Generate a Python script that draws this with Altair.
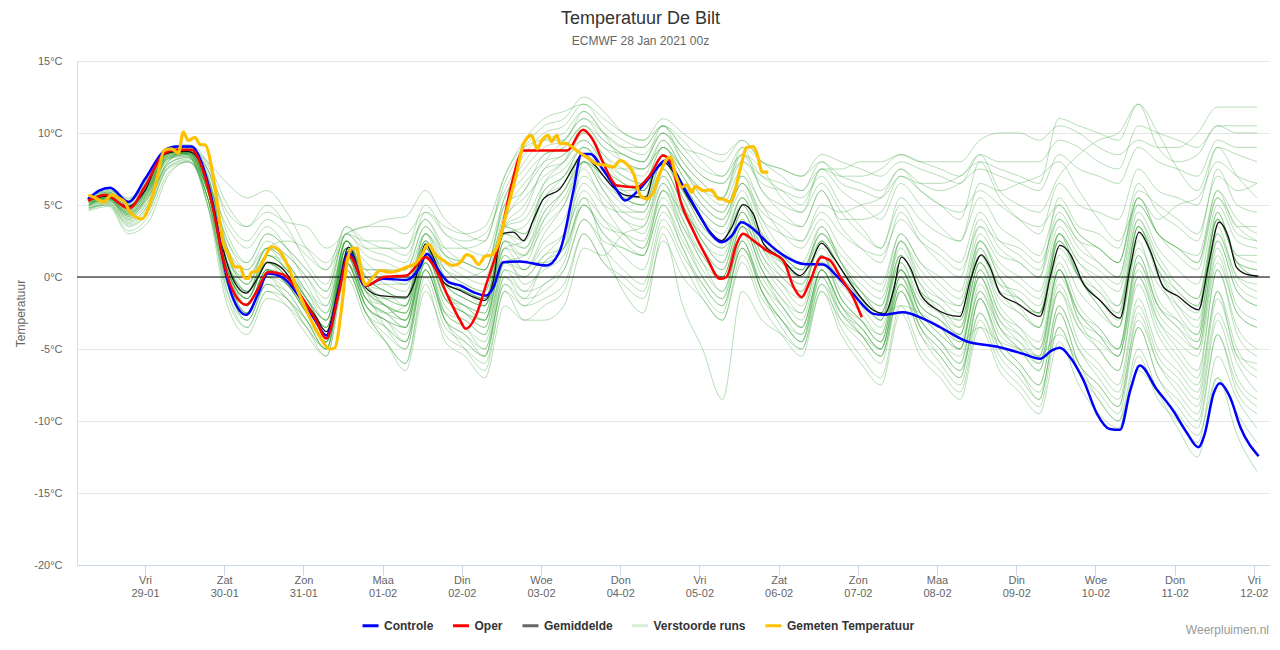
import json
import altair as alt
import pandas as pd

FONT = "Liberation Sans, Arial, Helvetica, sans-serif"

# ---- axis tick labels -------------------------------------------------------
TICKS = [1, 2, 3, 4, 5, 6, 7, 8, 9, 10, 11, 12, 13, 14, 15]
DAYS = ["Vri", "Zat", "Zon", "Maa", "Din", "Woe", "Don", "Vri", "Zat", "Zon",
        "Maa", "Din", "Woe", "Don", "Vri"]
DATES = ["29-01", "30-01", "31-01", "01-02", "02-02", "03-02", "04-02", "05-02",
         "06-02", "07-02", "08-02", "09-02", "10-02", "11-02", "12-02"]
Y_TICKS = [-20, -15, -10, -5, 0, 5, 10, 15]

SERIES = ["Controle", "Oper", "Gemiddelde", "Verstoorde runs", "Gemeten Temperatuur"]
LEGEND_COLORS = ["#0000ff", "#ff0000", "#666666", "#d8eed8", "#ffc000"]

# time in days since 28-01 00:00 ; (time, °C)
CONTROLE = [(0.28, 5.4), (0.42, 6.0), (0.56, 6.2), (0.79, 5.2), (1.0, 6.8), (1.25, 8.8),
            (1.4, 9.06), (1.59, 9.06), (1.72, 7.86), (1.88, 4.4), (1.97, 1.6), (2.09, -1.15),
            (2.28, -2.63), (2.43, -1.15), (2.55, 0.24), (2.73, -0.01), (2.98, -1.6), (3.15, -3.0),
            (3.29, -4.06), (3.44, -1.17), (3.57, 1.72), (3.78, -0.6), (4.01, -0.13), (4.3, -0.2),
            (4.47, 0.68), (4.56, 1.61), (4.68, 0.68), (4.83, -0.36), (4.98, -0.59), (5.15, -1.06),
            (5.31, -1.29), (5.4, -0.71), (5.52, 1.03), (5.73, 1.08), (6.07, 0.8), (6.24, 1.84),
            (6.41, 6.01), (6.51, 8.55), (6.62, 8.55), (6.79, 7.39), (6.96, 6.01), (7.06, 5.31),
            (7.21, 5.9), (7.4, 7.1), (7.57, 8.09), (7.67, 7.51), (7.8, 6.24), (7.97, 4.61),
            (8.13, 3.11), (8.28, 2.42), (8.41, 2.88), (8.53, 3.81), (8.68, 3.34), (8.85, 2.42),
            (9.1, 1.38), (9.31, 0.91), (9.56, 0.87), (9.73, 0.1), (9.94, -1.17), (10.2, -2.56),
            (10.32, -2.63), (10.57, -2.44), (10.83, -2.91), (11.04, -3.49), (11.37, -4.46),
            (11.75, -4.83), (12.09, -5.34), (12.3, -5.68), (12.45, -5.1), (12.55, -4.92),
            (12.68, -5.57), (12.85, -7.19), (13.02, -9.5), (13.18, -10.55), (13.31, -10.61),
            (13.44, -7.88), (13.56, -6.15), (13.77, -7.77), (13.98, -9.27), (14.15, -10.78),
            (14.3, -11.82), (14.38, -10.89), (14.49, -8.12), (14.57, -7.37), (14.7, -8.35),
            (14.83, -10.43), (15.06, -12.44)]

OPER = [(0.28, 5.3), (0.5, 5.7), (0.8, 4.76), (1.0, 6.3), (1.25, 8.6), (1.4, 8.83), (1.59, 8.83),
        (1.72, 7.6), (1.88, 4.2), (1.97, 1.6), (2.09, -0.7), (2.28, -1.93), (2.43, -0.8),
        (2.55, 0.35), (2.73, 0.2), (2.98, -1.4), (3.15, -2.9), (3.29, -4.27), (3.44, -1.3),
        (3.57, 1.5), (3.8, -0.6), (4.01, -0.01), (4.3, 0.1), (4.54, 1.38), (4.68, 0.45),
        (4.81, -1.17), (4.98, -3.02), (5.05, -3.6), (5.17, -2.79), (5.31, -0.48), (5.48, 2.53),
        (5.61, 6.01), (5.78, 8.78), (6.33, 8.78), (6.53, 10.22), (6.66, 9.48), (6.79, 7.86),
        (6.96, 6.35), (7.21, 6.24), (7.38, 7.1), (7.54, 8.44), (7.65, 7.86), (7.76, 5.31),
        (7.92, 3.23), (8.09, 1.38), (8.26, -0.13), (8.34, -0.01), (8.47, 2.3), (8.55, 3.0),
        (8.68, 2.53), (8.85, 1.84), (9.06, 1.14), (9.19, -0.71), (9.29, -1.4), (9.4, -0.25),
        (9.54, 1.38), (9.65, 1.14), (9.78, -0.01), (9.94, -1.4), (10.05, -2.79)]

GEMIDDELDE = [(0.28, 5.3), (0.5, 5.6), (0.79, 4.9), (1.0, 6.0), (1.21, 8.4), (1.4, 8.7),
              (1.55, 8.7), (1.67, 8.2), (1.8, 6.2), (1.93, 3.2), (2.05, 0.7), (2.28, -1.12),
              (2.43, 0.0), (2.55, 1.03), (2.73, 0.6), (2.98, -1.4), (3.15, -2.7), (3.29, -3.8),
              (3.44, -0.8), (3.57, 2.07), (3.78, -0.7), (3.97, -1.29), (4.3, -1.4), (4.41, -0.24),
              (4.54, 2.3), (4.64, 1.38), (4.77, -0.36), (4.98, -0.94), (5.15, -1.4), (5.29, -1.63),
              (5.4, -0.24), (5.5, 3.0), (5.65, 3.11), (5.78, 2.53), (5.9, 3.92), (6.03, 5.43),
              (6.24, 6.12), (6.41, 7.63), (6.51, 8.44), (6.66, 7.86), (6.91, 6.24), (7.08, 5.66),
              (7.33, 5.54), (7.42, 7.16), (7.57, 7.9), (7.71, 6.93), (7.88, 5.31), (8.09, 3.46),
              (8.28, 2.53), (8.41, 3.46), (8.55, 5.03), (8.68, 4.38), (8.81, 2.3), (9.02, 1.38),
              (9.27, 0.1), (9.4, 0.91), (9.54, 2.35), (9.69, 1.38), (9.94, -0.71), (10.2, -2.33),
              (10.34, -2.56), (10.45, -0.94), (10.55, 1.38), (10.66, 0.68), (10.79, -1.17),
              (10.95, -2.1), (11.29, -2.74), (11.42, -0.24), (11.56, 1.54), (11.67, 0.68),
              (11.8, -1.17), (12.01, -1.82), (12.3, -2.74), (12.43, -0.01), (12.55, 2.19),
              (12.68, 1.61), (12.85, -0.48), (13.06, -1.63), (13.31, -2.86), (13.44, 0.68),
              (13.55, 3.11), (13.69, 1.84), (13.86, -0.71), (14.03, -1.29), (14.3, -2.28),
              (14.43, 0.91), (14.56, 3.81), (14.68, 2.77), (14.78, 0.68), (14.9, 0.2), (15.06, 0.06)]

GEMETEN = [(0.284, 5.7), (0.37, 5.5), (0.474, 5.2), (0.579, 5.7), (0.663, 5.5), (0.747, 5.2),
           (0.81, 4.5), (0.958, 4.04), (1.126, 6.24), (1.244, 8.8), (1.337, 8.9), (1.421, 8.6),
           (1.484, 10.06), (1.547, 9.48), (1.631, 9.7), (1.694, 9.2), (1.758, 9.17), (1.884, 6.24),
           (1.989, 2.3), (2.052, 1.6), (2.136, 0.7), (2.2, 0.7), (2.263, -0.1), (2.305, -0.1),
           (2.347, 0.33), (2.41, 0.4), (2.473, 0.9), (2.6, 2.1), (2.683, 1.9), (2.81, 0.7),
           (2.894, -0.5), (3.02, -2.1), (3.188, -3.95), (3.336, -5.0), (3.399, -4.9), (3.483, -2.1),
           (3.546, 0.9), (3.61, 1.96), (3.672, 2.0), (3.715, 0.91), (3.78, -0.55), (3.88, -0.01),
           (3.97, 0.45), (4.09, 0.33), (4.2, 0.45), (4.3, 0.68), (4.41, 0.91), (4.49, 1.49),
           (4.58, 2.26), (4.66, 1.61), (4.77, 1.14), (4.89, 0.8), (4.98, 1.0), (5.06, 1.56),
           (5.13, 1.4), (5.21, 0.87), (5.29, 1.42), (5.38, 1.54), (5.46, 2.3), (5.57, 4.62),
           (5.69, 7.16), (5.78, 9.25), (5.88, 9.83), (5.95, 8.9), (6.01, 9.48), (6.09, 9.83),
           (6.13, 9.4), (6.2, 9.83), (6.24, 9.25), (6.3, 9.3), (6.37, 9.13), (6.45, 8.78),
           (6.58, 8.32), (6.7, 7.86), (6.83, 7.74), (6.91, 7.63), (7.0, 8.09), (7.08, 7.86),
           (7.17, 7.16), (7.25, 5.7), (7.33, 5.43), (7.42, 5.9), (7.48, 6.9), (7.63, 8.32),
           (7.71, 6.93), (7.78, 6.24), (7.84, 6.4), (7.9, 5.89), (7.95, 6.3), (8.05, 6.0),
           (8.15, 6.05), (8.24, 5.43), (8.3, 5.4), (8.39, 5.2), (8.45, 6.0), (8.51, 7.39),
           (8.6, 9.01), (8.68, 9.06), (8.74, 8.32), (8.79, 7.28), (8.87, 7.28)]

# ensemble members, 6-hourly (07, 13, 19, 01 h)
ENS_T = [0.29, 0.54, 0.79,
         1.04, 1.29, 1.54, 1.79, 2.04, 2.29, 2.54, 2.79, 3.04, 3.29, 3.54, 3.79,
         4.04, 4.29, 4.54, 4.79, 5.04, 5.29, 5.54, 5.79, 6.04, 6.29, 6.54, 6.79,
         7.04, 7.29, 7.54, 7.79, 8.04, 8.29, 8.54, 8.79, 9.04, 9.29, 9.54, 9.79,
         10.04, 10.29, 10.54, 10.79, 11.04, 11.29, 11.54, 11.79, 12.04, 12.29, 12.54, 12.79,
         13.04, 13.29, 13.54, 13.79, 14.04, 14.29, 14.54, 14.79, 15.04]

ENS = [
    [5.2, 5.8, 5.0, 6.5, 8.5, 9.0, 8.0, 6.5, 5.5, 6.0, 4.5, 2.0, 0.5, 2.5, 1.0, 0.0, -0.5, 2.0, 0.5,
     0.0, 0.5, 4.0, 6.0, 8.0, 9.5, 11.0, 10.0, 9.0, 8.5, 10.0, 8.5, 7.0, 6.5, 8.0, 7.0, 6.5, 6.0, 7.5, 7.0,
     7.0, 7.5, 8.5, 8.0, 8.0, 8.0, 9.5, 10.0, 10.0, 9.5, 10.5, 10.0, 9.0, 8.5, 9.5, 9.0, 9.0, 10.0, 11.8, 11.8, 11.8],
    [5.4, 5.6, 5.2, 7.0, 8.8, 8.9, 7.5, 4.5, 3.5, 4.5, 3.8, 3.5, 2.0, 3.0, 3.5, 3.5, 3.0, 4.5, 3.0,
     2.5, 3.0, 6.0, 8.5, 10.0, 10.5, 12.0, 11.0, 10.0, 9.5, 10.5, 9.0, 8.5, 8.0, 9.5, 8.0, 7.0, 6.0, 8.0, 6.5,
     6.0, 5.5, 7.0, 6.0, 5.0, 4.0, 8.0, 7.5, 7.0, 6.5, 11.0, 10.5, 10.0, 9.5, 12.0, 9.0, 8.0, 8.5, 10.5, 10.0, 10.0],
    [5.0, 5.5, 4.5, 5.8, 8.3, 8.6, 6.0, 1.0, 0.0, 2.0, 2.5, 2.0, 1.0, 3.0, 3.5, 4.0, 4.2, 6.0, 4.0,
     3.0, 2.5, 7.0, 9.0, 9.5, 9.5, 11.5, 10.0, 8.0, 7.5, 9.0, 7.5, 6.0, 5.0, 7.5, 5.0, 4.0, 3.5, 6.0, 4.0,
     4.0, 4.5, 7.0, 6.5, 6.5, 7.0, 8.0, 5.5, 4.0, 3.0, 6.5, 5.0, 4.5, 4.0, 7.5, 6.0, 5.5, 5.0, 9.0, 8.5, 8.0],
    [5.6, 6.0, 5.5, 6.5, 8.7, 8.5, 5.5, 0.5, -1.0, 1.0, 0.0, -1.5, -3.0, 2.0, 0.5, 0.5, 0.0, 3.0, 1.5,
     1.0, 0.5, 5.0, 6.0, 8.5, 9.0, 10.5, 9.0, 8.5, 8.0, 10.5, 8.0, 6.5, 5.5, 9.0, 6.0, 5.0, 4.5, 7.5, 7.5,
     8.0, 8.0, 8.5, 8.0, 7.5, 7.0, 8.5, 6.0, 5.0, 4.5, 7.0, 8.5, 9.5, 10.0, 12.0, 10.0, 7.5, 6.0, 9.0, 7.0, 5.5],
    [5.2, 5.3, 4.2, 5.5, 8.0, 8.8, 7.0, 2.5, 1.0, 3.0, 2.0, 0.5, -1.0, 3.0, 2.5, 2.5, 2.0, 4.0, 1.5,
     0.5, 0.0, 4.5, 6.5, 8.0, 8.5, 10.0, 8.5, 7.5, 7.0, 9.5, 7.5, 6.0, 5.5, 8.0, 6.5, 6.0, 5.5, 7.0, 5.0,
     3.5, 2.0, 5.5, 4.0, 3.0, 2.5, 6.5, 6.0, 6.5, 7.0, 8.0, 6.0, 4.0, 2.5, 5.0, 3.0, 2.0, 1.5, 6.0, 4.0, 3.0],
    [4.9, 5.6, 4.8, 6.0, 8.4, 8.7, 6.5, 2.0, 0.5, 2.0, 0.5, -1.0, -2.0, 2.5, 0.0, -1.0, -1.5, 2.5, 0.5,
     -0.5, -1.0, 3.5, 4.0, 6.5, 7.5, 9.0, 8.0, 7.5, 7.5, 9.0, 7.0, 5.0, 4.0, 6.5, 4.0, 3.0, 2.5, 5.0, 4.5,
     5.0, 5.5, 7.5, 6.0, 5.0, 4.5, 6.0, 5.0, 4.0, 3.5, 5.0, 3.0, 2.0, 1.0, 6.0, 5.0, 4.0, 3.0, 7.0, 6.0, 6.5],
    [5.3, 5.5, 4.5, 6.2, 8.6, 8.6, 6.0, 0.5, -1.5, 1.0, 0.5, -2.0, -4.0, 2.0, -1.0, -1.5, -1.5, 2.5, 0.0,
     -1.0, -1.5, 3.0, 2.0, 5.0, 6.5, 8.5, 7.0, 5.5, 5.0, 8.0, 6.0, 4.0, 2.5, 5.5, 2.5, 1.5, 0.5, 3.0, 1.0,
     -1.0, -2.0, 2.0, -0.5, -1.5, -2.0, 2.5, 0.5, -0.5, -1.5, 3.0, 1.0, -0.5, -2.0, 4.0, 1.0, -0.5, -1.5, 4.5, 1.0, 0.5],
    [5.5, 5.8, 4.6, 6.5, 8.8, 8.5, 5.0, -0.5, -2.5, 0.5, -0.5, -2.5, -4.5, 1.5, -1.5, -2.5, -2.0, 2.0, -1.0,
     -2.0, -2.5, 2.5, 1.0, 4.0, 6.0, 8.0, 7.0, 6.0, 6.0, 8.5, 6.5, 4.5, 3.5, 6.0, 3.0, 1.5, 0.5, 2.5, 0.5,
     -1.0, -2.5, 1.0, -1.5, -2.5, -3.0, 1.5, -1.0, -2.0, -2.5, 2.0, 0.0, -1.0, -2.5, 3.5, 0.5, -1.0, -2.0, 4.0, 1.5, 1.0],
    [5.0, 5.2, 3.8, 5.0, 7.8, 8.3, 6.5, 1.5, -0.5, 1.5, 0.5, -1.5, -3.5, 1.5, -0.5, -1.0, -2.0, 3.0, -0.5,
     -1.5, -2.0, 3.5, 3.0, 6.0, 7.0, 9.0, 7.5, 5.5, 5.0, 8.0, 5.5, 2.5, 1.5, 4.5, 2.0, 0.5, -0.5, 2.0, 0.0,
     -1.5, -3.0, 1.5, -1.0, -2.0, -3.5, 1.0, -1.5, -2.5, -3.5, 1.5, -1.0, -2.5, -3.5, 2.0, -0.5, -2.0, -3.0, 3.0, 0.0, -1.0],
    [5.6, 5.9, 5.2, 6.8, 8.9, 8.8, 7.0, 1.5, -1.0, 1.5, 1.0, -1.5, -3.5, 2.5, -0.5, -2.0, -2.5, 2.0, -1.5,
     -2.5, -3.0, 2.5, 1.5, 4.5, 6.0, 8.5, 6.5, 5.0, 4.5, 7.5, 5.0, 2.0, 0.5, 4.0, 1.0, -0.5, -1.5, 1.5, -0.5,
     -2.0, -3.5, 0.5, -2.0, -3.0, -4.0, 1.0, -1.0, -1.5, -2.5, 2.5, 0.5, -1.0, -2.0, 3.0, 0.5, -1.5, -2.5, 4.0, 1.0, 0.0],
    [4.8, 5.0, 3.5, 4.5, 7.5, 8.0, 5.5, 0.0, -2.0, 0.5, 0.0, -2.0, -4.0, 1.0, -1.0, -2.0, -3.0, 1.5, -0.5,
     -1.0, -1.5, 3.5, 4.5, 7.5, 8.0, 10.0, 8.5, 7.0, 6.5, 9.0, 7.0, 5.0, 4.0, 6.5, 4.5, 3.5, 2.5, 4.5, 3.0,
     2.0, 1.5, 4.0, 2.5, 1.5, 0.5, 3.5, 2.5, 2.0, 1.0, 4.0, 2.5, 1.0, 0.0, 5.0, 3.0, 2.0, 1.0, 5.5, 3.5, 2.5],
    [5.3, 5.7, 5.0, 6.3, 8.5, 8.8, 6.5, 0.5, -2.0, 0.5, 0.0, -2.5, -4.5, 2.0, -2.0, -3.0, -3.5, 1.5, -1.5,
     -2.5, -3.5, 1.0, 0.0, 1.5, 3.0, 6.5, 5.0, 4.5, 4.5, 7.5, 5.0, 2.5, 1.0, 4.5, 1.5, 0.0, -1.0, 2.5, 0.5,
     -1.0, -2.0, 2.5, 0.0, -1.5, -2.5, 2.0, -0.5, -1.5, -2.5, 2.5, 0.0, -1.5, -3.0, 3.5, 0.5, -2.0, -3.5, 3.5, 0.0, -0.5],
    [5.1, 5.4, 4.0, 5.8, 8.2, 8.4, 5.0, -1.0, -3.0, -0.5, -1.0, -3.0, -5.0, 1.0, -2.0, -3.0, -3.5, 1.5, -1.5,
     -2.5, -3.0, 1.5, 0.5, 3.0, 5.0, 8.0, 6.0, 4.0, 3.5, 7.0, 4.0, 1.0, 0.0, 3.5, 0.5, -1.5, -2.5, 1.5, -1.5,
     -3.0, -4.5, 0.5, -2.5, -4.0, -5.0, 0.5, -2.5, -3.5, -4.5, 1.0, -2.0, -3.5, -5.0, 1.0, -2.5, -4.0, -5.0, 2.0, -2.0, -3.0],
    [5.4, 5.5, 4.3, 6.0, 8.6, 8.9, 6.8, 2.5, 0.5, 2.5, 1.5, 0.0, -2.0, 2.5, 0.0, -1.0, -1.5, 2.0, -0.5,
     -1.5, -2.0, 2.0, 2.5, 6.5, 8.0, 10.5, 9.0, 8.0, 7.5, 9.5, 7.5, 5.5, 4.5, 7.0, 4.0, 2.0, 1.0, 3.5, 1.0,
     -1.0, -2.5, 1.5, -1.0, -2.5, -3.5, 2.0, -1.0, -2.5, -3.5, 3.0, 0.0, -2.0, -3.5, 2.5, -1.5, -3.0, -4.5, 2.5, -1.0, -2.0],
    [4.7, 5.0, 3.2, 4.2, 7.2, 8.0, 6.0, 1.0, -1.5, 1.0, -0.5, -2.0, -3.5, 1.0, -1.5, -2.5, -3.5, 1.0, -2.5,
     -3.5, -4.5, 0.5, -1.0, -0.5, 1.0, 5.0, 3.0, 2.0, 1.5, 6.0, 4.5, 3.0, 2.0, 5.0, 2.0, 0.0, -1.0, 2.5, 0.0,
     -1.5, -3.0, 1.0, -2.0, -3.0, -4.5, 0.0, -3.0, -4.0, -5.0, 0.5, -2.5, -3.5, -5.0, 1.5, -2.0, -3.5, -4.5, 3.0, -0.5, -1.5],
    [5.2, 5.6, 4.8, 6.4, 8.7, 8.7, 6.0, 0.0, -2.5, 0.0, -0.5, -2.5, -4.5, 1.5, -1.5, -2.5, -3.0, 1.5, -1.0,
     -2.0, -3.0, 1.5, -0.5, 0.5, 1.5, 5.5, 4.0, 3.0, 2.0, 6.0, 3.0, 0.5, -1.0, 2.5, -0.5, -2.0, -3.5, 0.5, -2.0,
     -3.5, -5.0, -0.5, -3.0, -4.5, -6.0, -1.0, -3.5, -5.0, -6.5, -0.5, -3.5, -5.0, -6.5, 0.0, -3.5, -5.5, -7.0, 0.5, -3.5, -5.0],
    [5.5, 6.1, 5.1, 6.7, 8.9, 9.0, 7.2, 1.0, -2.0, 0.5, -0.5, -2.5, -4.0, 2.0, -0.5, -0.5, -0.5, 1.5, -0.5,
     -1.0, -1.5, 1.0, 1.0, 1.0, 2.0, 8.0, 7.0, 5.5, 5.5, 8.0, 5.5, 3.0, 2.0, 3.5, 2.0, 1.0, 0.5, 1.0, 0.0,
     -1.5, -2.5, -2.0, -2.5, -3.5, -4.5, -3.5, -4.5, -5.0, -5.5, -4.0, -6.0, -8.5, -10.0, -6.5, -8.0, -9.5, -11.0, -7.0, -9.5, -11.5],
    [4.9, 5.3, 4.4, 5.6, 8.1, 8.5, 5.5, -1.5, -3.5, -1.0, -1.5, -3.5, -5.5, 0.5, -2.5, -4.0, -5.0, 0.5, -3.0,
     -4.5, -5.5, 0.0, -1.5, -1.0, 0.5, 4.0, 2.0, 0.5, -0.5, 4.0, 1.5, -0.5, -2.0, 2.0, -0.5, -2.5, -4.0, 0.0, -3.0,
     -4.5, -6.0, -1.0, -4.0, -5.5, -7.0, -1.5, -4.5, -6.0, -7.5, -2.0, -5.0, -7.0, -8.5, -3.0, -6.0, -7.5, -9.0, -2.5, -6.0, -8.0],
    [5.0, 5.5, 4.0, 5.2, 7.8, 8.4, 5.0, -2.0, -4.0, -1.5, -2.0, -3.5, -5.0, 1.0, -2.0, -3.5, -4.5, 1.0, -3.0,
     -5.0, -6.5, -1.0, -3.0, -3.0, -2.0, 2.0, 1.5, 3.0, 3.5, 6.5, 3.5, 1.0, -1.0, 2.5, -1.0, -3.5, -5.0, -0.5, -3.5,
     -5.5, -7.0, -2.0, -5.0, -6.5, -8.0, -3.0, -6.0, -7.5, -9.0, -3.5, -6.5, -8.0, -9.5, -3.5, -7.0, -9.0, -10.5, -4.0, -8.0, -9.5],
    [5.4, 5.8, 4.7, 6.1, 8.5, 8.8, 6.8, 0.5, -1.5, 1.5, 0.5, -1.5, -3.0, 2.0, -0.5, -1.5, -2.0, 2.0, -1.0,
     -2.0, -3.0, 2.0, 1.5, 3.5, 5.0, 7.5, 5.0, 3.0, 2.0, 5.5, 3.0, 0.0, -1.5, 2.0, -1.0, -3.0, -4.5, -0.5, -2.5,
     -4.0, -5.5, -1.0, -3.5, -5.0, -6.5, -2.5, -5.0, -6.5, -8.0, -3.5, -6.5, -8.5, -10.0, -5.0, -8.0, -10.5, -12.5, -7.0, -11.0, -13.5],
    [5.1, 5.5, 4.4, 5.9, 8.4, 8.6, 6.2, 1.0, -1.0, 1.0, 0.0, -2.0, -4.0, 1.5, -1.0, -2.0, -3.0, 2.0, -1.0,
     -2.5, -3.5, 2.0, 0.5, 2.0, 3.0, 5.5, 2.0, -1.0, -2.5, 3.0, -2.0, -5.0, -8.5, -1.0, -3.0, -4.0, -5.0, -1.0, -3.0,
     -4.0, -5.0, -0.5, -3.0, -4.5, -5.5, -1.0, -4.0, -5.0, -6.0, -1.0, -3.5, -4.5, -5.5, 0.0, -3.0, -4.5, -5.5, 1.0, -2.5, -3.5],
    [4.6, 4.9, 3.0, 3.8, 7.0, 8.0, 6.5, 3.5, 2.0, 3.5, 2.0, -0.5, -2.5, 2.5, -0.5, -2.0, -3.0, 1.0, -2.5,
     -3.5, -5.0, -0.5, -2.0, -1.5, -0.5, 3.0, 1.0, -0.5, -1.5, 2.5, 0.0, -1.5, -3.0, 1.5, -1.5, -3.0, -4.5, 0.5, -2.5,
     -4.0, -5.5, -0.5, -3.5, -5.5, -7.0, -1.5, -5.0, -6.5, -8.5, -2.5, -6.0, -7.5, -9.0, -3.5, -7.0, -8.5, -10.0, -4.0, -7.5, -9.0],
    [5.3, 5.6, 4.8, 6.2, 8.6, 8.5, 6.0, 0.5, -1.5, 1.0, 0.0, -2.0, -4.0, 2.5, -0.5, -1.5, -2.0, 2.5, 0.0,
     -1.0, -1.5, 3.0, 3.5, 6.0, 7.0, 8.5, 7.5, 6.5, 6.0, 8.5, 6.0, 4.0, 3.0, 5.5, 3.0, 1.5, 0.5, 3.0, 1.5,
     0.0, -1.0, 3.0, 1.0, 0.0, -1.0, 3.5, 1.5, 1.0, 0.0, 4.0, 2.0, 1.0, 0.0, 5.5, 3.0, 2.0, 1.0, 6.0, 3.5, 3.5],
    [5.5, 5.9, 5.3, 7.0, 9.0, 9.1, 7.5, 3.0, 1.0, 3.0, 2.0, 0.5, -1.0, 3.0, 1.5, 1.0, 0.5, 3.5, 2.0,
     2.0, 2.5, 6.5, 9.0, 10.5, 11.0, 12.5, 11.5, 10.0, 9.5, 11.0, 10.0, 9.0, 8.5, 9.5, 8.0, 7.5, 7.0, 8.5, 8.0,
     7.5, 7.0, 8.0, 7.5, 7.0, 6.5, 8.5, 8.0, 8.0, 8.0, 9.5, 9.0, 8.0, 7.5, 10.5, 10.0, 9.5, 9.0, 10.5, 10.5, 10.5],
    [5.2, 5.4, 4.2, 5.5, 8.2, 8.5, 5.5, -0.5, -3.0, -0.5, -1.5, -3.0, -5.0, 1.5, -1.5, -2.0, -2.5, 2.0, -0.5,
     -1.0, -2.0, 3.5, 5.0, 7.5, 8.5, 9.5, 8.0, 6.5, 6.0, 8.5, 6.5, 4.5, 3.5, 6.5, 3.5, 1.0, 0.0, 3.5, 1.0,
     -1.5, -3.0, 2.5, -0.5, -2.5, -4.0, 2.5, 0.0, -2.0, -3.5, 3.0, 0.0, -2.0, -3.5, 3.5, 0.0, -2.5, -4.0, 4.5, 1.0, 0.5],
    [5.0, 5.3, 4.1, 5.3, 8.0, 8.7, 7.5, 2.0, -0.5, 2.0, 1.0, -1.0, -3.0, 2.0, -1.0, -3.5, -5.0, 0.5, -3.0,
     -4.0, -5.0, 0.5, 0.0, 1.5, 2.0, 5.0, 3.0, 1.5, 0.5, 4.5, 2.0, -1.0, -2.5, 2.5, -1.0, -3.0, -4.0, 0.5, -2.0,
     -3.5, -5.0, 0.0, -2.5, -4.0, -5.0, 0.0, -3.0, -4.5, -6.0, 0.0, -2.5, -4.0, -5.5, 0.5, -3.0, -5.0, -6.5, 0.5, -4.0, -5.5],
    [4.7, 5.1, 3.6, 4.6, 7.6, 8.2, 6.0, 0.0, -2.5, 0.0, -1.5, -3.5, -5.0, 0.5, -2.5, -4.5, -6.0, -0.5, -4.5,
     -5.5, -7.0, -2.0, -3.0, -2.0, -1.0, 3.0, 1.0, 0.0, -1.0, 3.5, 1.0, -1.5, -3.0, 1.0, -2.0, -4.0, -5.5, -1.0, -4.0,
     -6.0, -7.5, -2.5, -5.5, -7.0, -8.5, -3.5, -6.5, -8.0, -9.5, -4.5, -7.5, -9.5, -10.5, -5.5, -8.5, -10.0, -11.5, -5.5, -8.5, -10.5],
    [5.4, 5.7, 4.9, 6.6, 8.8, 8.7, 6.3, 1.0, -1.0, 1.5, 0.5, -1.5, -3.5, 2.0, 0.5, 0.5, 0.5, 3.5, 1.5,
     1.0, 0.5, 5.0, 7.0, 8.5, 9.0, 10.5, 9.5, 8.5, 8.0, 10.0, 8.0, 6.5, 5.5, 8.5, 6.0, 4.5, 3.5, 6.0, 3.5,
     2.0, 1.0, 4.5, 2.5, 1.0, 0.0, 4.0, 2.0, 1.0, 0.0, 5.5, 3.5, 3.0, 2.0, 6.5, 4.5, 3.5, 2.5, 7.5, 5.0, 4.5],
    [5.2, 5.5, 4.6, 6.0, 8.4, 8.6, 6.5, 0.0, -2.0, 0.5, -0.5, -2.5, -4.5, 1.0, -2.0, -3.0, -4.0, 1.0, -2.0,
     -3.0, -4.0, 1.0, 0.5, 2.5, 4.0, 7.0, 5.5, 4.0, 3.0, 6.5, 4.0, 1.5, 0.0, 3.5, 0.5, -1.5, -3.0, 1.0, -1.5,
     -3.0, -4.5, 0.5, -2.5, -3.5, -5.0, 0.5, -2.5, -4.0, -5.5, 0.5, -3.0, -5.0, -6.5, -0.5, -4.0, -6.0, -7.5, -1.0, -5.0, -6.5],
    [5.1, 5.4, 4.5, 6.1, 8.5, 8.6, 6.2, 0.5, -1.5, 1.0, 0.0, -2.0, -4.0, 2.0, -1.0, -2.0, -2.5, 2.5, -0.5,
     -1.5, -2.0, 3.0, 2.5, 5.5, 6.5, 8.5, 7.0, 6.0, 5.5, 8.5, 6.0, 3.5, 2.5, 5.5, 2.5, 1.0, 0.0, 3.0, 1.0,
     -0.5, -1.5, 2.5, 0.5, -1.0, -2.0, 2.5, 0.0, -1.5, -2.5, 2.5, 0.0, -1.5, -2.5, 3.5, 1.0, -1.0, -2.0, 4.0, 1.5, 1.5],
    [5.3, 5.5, 4.4, 5.9, 8.3, 8.5, 6.0, 0.0, -2.5, 0.0, -1.0, -3.0, -5.0, 1.0, -2.5, -3.5, -4.5, 0.5, -2.5,
     -3.0, -4.0, 1.0, 1.5, 4.0, 5.5, 8.0, 6.0, 4.5, 4.0, 7.0, 4.5, 2.0, 0.5, 4.0, 1.0, -1.0, -2.5, 1.5, -1.5,
     -3.0, -4.5, 0.0, -3.5, -5.0, -6.5, -1.5, -4.5, -6.0, -7.5, -2.0, -5.0, -6.5, -8.0, -2.0, -5.5, -7.0, -8.5, -1.5, -5.5, -7.0],
    [5.0, 5.4, 4.3, 5.6, 8.2, 8.6, 6.6, 1.5, -0.5, 2.0, 1.0, -1.0, -2.5, 2.5, 0.5, -0.5, -1.0, 3.0, 1.0,
     0.0, -0.5, 4.0, 5.5, 7.0, 8.0, 9.5, 8.0, 7.0, 6.5, 9.0, 7.5, 5.5, 4.5, 7.0, 5.0, 3.0, 2.0, 4.0, 2.0,
     0.5, -0.5, 3.0, 1.0, -0.5, -1.5, 3.0, 1.0, 0.0, -1.0, 3.5, 1.5, 0.5, -0.5, 4.5, 2.0, 0.5, -0.5, 5.0, 2.5, 2.0],
    [4.8, 5.2, 3.9, 5.0, 7.9, 8.3, 5.5, -1.0, -3.5, -1.0, -2.0, -4.0, -5.5, 0.0, -3.0, -4.5, -6.0, 0.0, -3.5,
     -4.5, -5.5, 0.0, -1.0, 1.0, 2.5, 6.0, 4.0, 2.5, 1.5, 5.0, 2.5, 0.0, -1.5, 3.0, 0.0, -2.0, -3.5, 0.5, -2.0,
     -3.0, -4.0, 0.5, -2.0, -3.0, -4.0, 1.0, -2.0, -3.5, -5.0, 0.5, -2.5, -4.0, -5.5, 1.0, -2.0, -3.5, -5.0, 1.5, -2.5, -3.5],
    [5.3, 5.7, 5.0, 6.4, 8.7, 8.8, 6.8, 2.0, 0.0, 2.0, 1.5, 0.0, -1.5, 3.0, 2.0, 2.0, 1.5, 4.0, 2.0,
     1.0, 0.5, 5.5, 7.5, 9.0, 9.5, 11.0, 9.5, 8.5, 8.0, 10.0, 8.5, 7.0, 6.5, 8.5, 7.0, 6.0, 5.0, 7.5, 6.0,
     5.0, 4.0, 6.5, 5.0, 3.5, 2.5, 5.5, 3.5, 2.5, 1.5, 5.0, 3.0, 2.0, 1.0, 5.5, 4.0, 5.0, 5.5, 8.0, 7.0, 6.5],
    [5.1, 5.6, 4.7, 6.2, 8.6, 8.7, 6.4, 0.5, -2.0, 0.5, -0.5, -2.0, -4.0, 1.5, -1.5, -2.5, -3.5, 1.5, -1.5,
     -2.0, -2.5, 2.5, 2.0, 4.5, 6.0, 8.0, 6.5, 5.5, 5.0, 7.5, 5.0, 2.5, 1.0, 4.5, 1.5, -0.5, -2.0, 1.5, -1.0,
     -2.5, -4.0, 0.5, -2.5, -3.5, -5.0, 0.0, -3.5, -5.0, -6.5, -1.0, -4.5, -6.0, -7.5, -1.5, -5.0, -6.5, -8.0, -1.0, -5.5, -6.0],
    [5.5, 6.0, 5.4, 7.2, 9.0, 9.2, 8.0, 5.0, 3.5, 5.0, 3.5, 1.0, -0.5, 3.5, 2.5, 2.0, 2.0, 5.0, 3.0,
     2.0, 1.5, 5.5, 8.0, 9.5, 10.0, 11.5, 10.0, 9.0, 9.0, 10.5, 9.0, 7.5, 7.0, 8.5, 7.5, 5.5, 4.5, 6.5, 4.5,
     3.0, 2.0, 5.0, 3.0, 2.0, 1.0, 4.5, 2.5, 1.5, 0.5, 4.5, 2.5, 2.0, 1.0, 5.5, 3.0, 1.5, 0.5, 5.5, 3.0, 2.5],
    [5.2, 5.5, 4.3, 5.7, 8.3, 8.6, 6.3, 0.5, -1.5, 1.0, 0.0, -2.5, -4.5, 1.0, -2.0, -3.0, -4.5, 0.5, -3.0,
     -4.0, -5.5, -0.5, -1.5, 1.0, 2.0, 5.0, 3.5, 3.0, 2.5, 6.0, 3.5, 1.5, 0.0, 3.5, 0.5, -2.0, -3.5, 0.5, -2.0,
     -4.0, -5.5, -1.0, -4.0, -6.0, -7.5, -2.5, -5.5, -7.0, -8.5, -2.5, -6.0, -7.5, -9.0, -2.5, -6.0, -8.0, -9.5, -3.0, -7.0, -8.5],
    [5.4, 5.6, 4.6, 6.3, 8.6, 8.8, 6.6, 1.0, -1.0, 1.5, 0.5, -1.5, -3.0, 2.5, 0.0, -1.0, -1.5, 3.0, 0.5,
     -0.5, -1.0, 3.5, 3.0, 5.5, 7.0, 9.0, 7.5, 6.5, 6.0, 8.0, 6.0, 3.5, 2.5, 5.0, 2.5, 0.5, -0.5, 2.5, 0.5,
     -1.5, -2.5, 1.5, -1.0, -2.0, -3.0, 1.5, -0.5, -1.0, -2.0, 3.0, 1.0, 0.0, -1.0, 4.0, 1.5, -0.5, -1.5, 4.0, 1.0, 0.0],
    [4.8, 5.1, 3.7, 4.8, 7.6, 8.1, 5.5, -0.5, -3.0, -0.5, -1.5, -3.0, -4.5, 0.5, -2.5, -4.5, -6.5, -1.0, -4.0,
     -5.0, -6.0, -1.0, -2.0, -0.5, 0.5, 4.0, 2.5, 2.0, 1.5, 5.0, 2.0, -0.5, -2.0, 2.0, -1.0, -3.0, -4.5, 0.0, -2.5,
     -3.5, -5.0, 0.0, -3.0, -4.5, -6.0, -0.5, -3.5, -4.5, -5.5, 0.5, -3.0, -4.0, -5.0, 1.5, -2.0, -3.0, -4.0, 2.5, -1.0, -2.0],
    [5.3, 5.9, 5.2, 6.9, 8.9, 9.0, 7.8, 4.0, 2.5, 4.0, 3.0, 1.5, 0.5, 3.5, 2.0, 1.5, 1.0, 4.5, 3.5,
     3.0, 3.5, 7.0, 9.5, 11.0, 11.5, 12.0, 10.5, 9.5, 9.0, 10.5, 9.5, 8.0, 7.0, 9.0, 8.0, 7.5, 7.0, 8.0, 7.0,
     6.5, 6.0, 7.5, 6.5, 6.0, 6.5, 7.5, 7.0, 6.5, 6.0, 8.5, 7.5, 7.0, 6.5, 9.0, 8.0, 7.5, 7.0, 9.5, 9.0, 9.0],
]

# ---- build tables -------------------------------------------------------------
ens_rows = []
for i, member in enumerate(ENS):
    for t, v in zip(ENS_T, member):
        ens_rows.append({"m": i, "t": t, "v": v})
df_ens = pd.DataFrame(ens_rows)


def frame(pairs, name):
    return pd.DataFrame({"t": [p[0] for p in pairs], "v": [p[1] for p in pairs], "serie": name})


df_ctrl = frame(CONTROLE, "Controle")
df_oper = frame(OPER, "Oper")
df_mean = frame(GEMIDDELDE, "Gemiddelde")
df_obs = frame(GEMETEN, "Gemeten Temperatuur")
df_legend = pd.DataFrame({"t": [1.0] * 5, "v": [999.0] * 5, "serie": SERIES})

x_label_expr = "[{}[datum.value - 1], {}[datum.value - 1]]".format(json.dumps(DAYS), json.dumps(DATES))

X = alt.X("t:Q",
          scale=alt.Scale(domain=[0.1414, 15.204], nice=False, zero=False),
          axis=alt.Axis(values=TICKS, labelExpr=x_label_expr, grid=False, title=None,
                        domainColor="#ccd6eb", tickColor="#ccd6eb", tickSize=10,
                        labelColor="#666666", labelFontSize=11, labelFont=FONT,
                        labelPadding=-1, labelLineHeight=13.5, labelAngle=0,
                        labelOverlap=False, labelFlush=False))
Y = alt.Y("v:Q",
          scale=alt.Scale(domain=[-20, 15], nice=False, zero=False),
          axis=alt.Axis(values=Y_TICKS, labelExpr="datum.value + '°C'", grid=True,
                        gridColor="#e6e6e6", domain=False, ticks=False, tickSize=0,
                        labelColor="#666666", labelFontSize=11, labelFont=FONT, labelPadding=15,
                        title="Temperatuur", titleColor="#666666", titleFontSize=12,
                        titleFont=FONT, titleFontWeight="normal", titleAngle=270,
                        titleX=-57, titleY=252, titleAlign="center", titleBaseline="middle"))

ens = alt.Chart(df_ens).mark_line(interpolate="monotone", strokeWidth=0.9,
                                  color="#2e9e2e", opacity=0.38).encode(
    x=X, y=Y, detail="m:N")

zero = alt.Chart(pd.DataFrame({"v": [0.0]})).mark_rule(color="#000000", strokeWidth=1).encode(
    y=alt.Y("v:Q"))

mean = alt.Chart(df_mean).mark_line(interpolate="monotone", strokeWidth=1.3, color="#111111").encode(x=X, y=Y)
ctrl = alt.Chart(df_ctrl).mark_line(interpolate="monotone", strokeWidth=2.5, color="#0000ff").encode(x=X, y=Y)
oper = alt.Chart(df_oper).mark_line(interpolate="monotone", strokeWidth=2.5, color="#ff0000").encode(x=X, y=Y)
obs = alt.Chart(df_obs).mark_line(interpolate="monotone", strokeWidth=3.2, color="#ffc000").encode(x=X, y=Y)

legend = alt.Chart(df_legend).transform_filter("datum.v < 100").mark_line(strokeWidth=3).encode(
    x=X, y=Y,
    color=alt.Color("serie:N",
                    scale=alt.Scale(domain=SERIES, range=LEGEND_COLORS),
                    legend=alt.Legend(orient="none", legendX=284, legendY=555,
                                      direction="horizontal", title=None,
                                      symbolType="stroke", symbolStrokeWidth=3, symbolSize=256,
                                      labelFontSize=12, labelFontWeight="bold",
                                      labelColor="#333333", labelFont=FONT,
                                      columnPadding=12.5, labelOffset=4, padding=0)))

credits = alt.Chart(pd.DataFrame({"txt": ["Weerpluimen.nl"]})).mark_text(
    align="right", baseline="alphabetic", fontSize=12, color="#999999", font=FONT).encode(
    x=alt.value(1192), y=alt.value(573), text="txt:N")

chart = alt.layer(ens, zero, mean, ctrl, oper, obs, legend, credits).properties(
    width=1193, height=504,
    title=alt.TitleParams(text="Temperatuur De Bilt", subtitle="ECMWF 28 Jan 2021 00z",
                          anchor="middle", fontSize=18, fontWeight="normal", color="#333333",
                          font=FONT, subtitleFont=FONT, subtitleFontSize=12,
                          subtitleColor="#666666", offset=8, subtitlePadding=8, dx=-33),
    autosize=alt.AutoSizeParams(type="none"),
    padding={"left": 69, "top": 53, "right": 0, "bottom": 76},
).configure_view(stroke=None).configure(background="#ffffff")

chart.save("out.html", embed_options={"renderer": "svg", "actions": False})
